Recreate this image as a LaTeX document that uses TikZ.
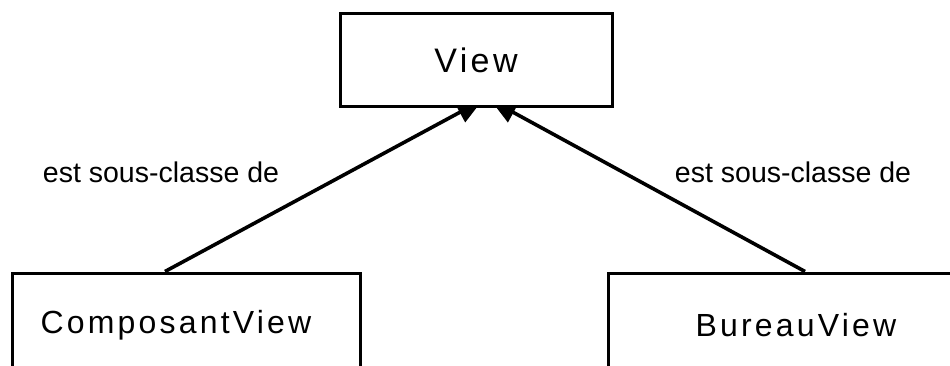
\documentclass[tikz,border=0pt]{standalone}
\usepackage{fontspec}
\setmainfont{Liberation Sans}
\usetikzlibrary{arrows.meta,backgrounds}
\tikzset{
  classbox/.style={draw, line width=3pt, fill=white, inner sep=0pt},
  boxtext/.style={font=\fontsize{32}{38}\selectfont\addfontfeatures{LetterSpace=10}},
  rellabel/.style={font=\fontsize{28.5}{33}\selectfont, inner sep=0pt},
  inherit/.style={line width=3.6pt, -{Triangle[length=26pt,width=22pt]}}
}
\begin{document}
\begin{tikzpicture}[x=1pt,y=1pt]
\useasboundingbox (0,0) rectangle (950,365);
\clip (0,0) rectangle (950,365);
\node[classbox, minimum width=272pt, minimum height=93pt, font=\fontsize{34}{40}\selectfont\addfontfeatures{LetterSpace=10}] (view) at (476,305) {View};
\node[classbox, boxtext, minimum width=348pt, minimum height=104pt] (cv) at (186,40) {\hspace*{-20pt}ComposantView};
\node[classbox, boxtext, minimum width=376pt, minimum height=104pt] (bv) at (796,40) {BureauView};
\begin{scope}[on background layer]
\draw[inherit] ([xshift=-21pt]cv.north) -- ([xshift=6.6pt,yshift=8pt]view.south);
\draw[inherit] ([xshift=9pt]bv.north) -- ([xshift=14.6pt,yshift=8pt]view.south);
\end{scope}
\node[rellabel] (l1) at (161,193) {est sous-classe de};
\node[rellabel] (l2) at (793,193) {est sous-classe de};
\end{tikzpicture}
\end{document}
